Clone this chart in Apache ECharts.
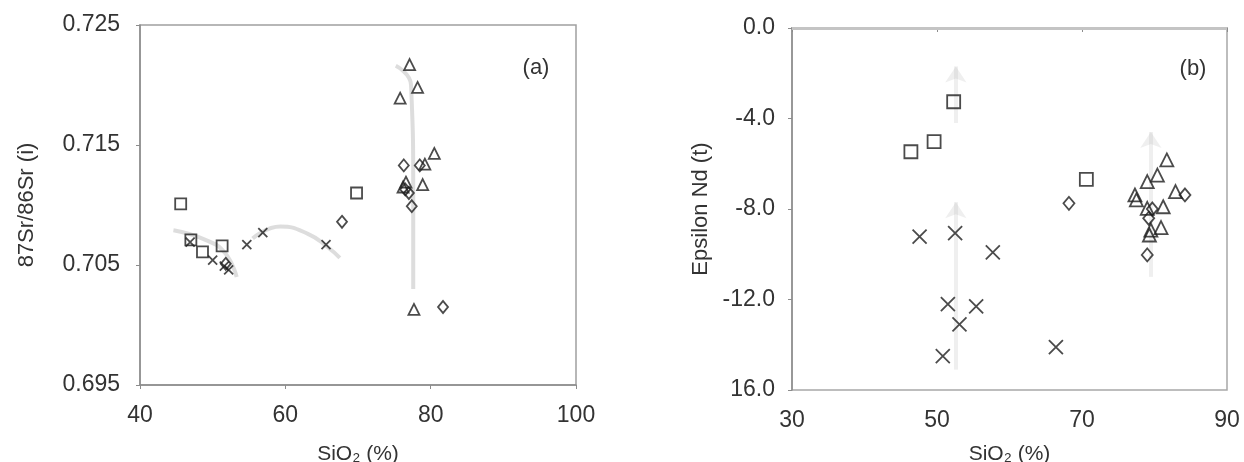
<!DOCTYPE html>
<html>
<head>
<meta charset="utf-8">
<script src="https://cdn.jsdelivr.net/npm/echarts@6/dist/echarts.min.js"></script>
<style>
html,body{margin:0;padding:0;background:#fff;}
#chart{width:1244px;height:462px;}
</style>
</head>
<body>
<div id="chart"></div>
<script>
// ---------- Panel (a): 87Sr/86Sr (i) vs SiO2 ----------
const xTicksA = [40, 60, 80, 100];
const xTickLabelsA = ['40', '60', '80', '100'];
const yTicksA = [0.695, 0.705, 0.715, 0.725];
const yTickLabelsA = ['0.695', '0.705', '0.715', '0.725'];

const aSquares = [[45.6, 0.7101], [47.0, 0.7071], [48.6, 0.7061], [51.3, 0.7066], [69.8, 0.7110]];
const aCrosses = [[46.9, 0.7069], [50.0, 0.7054], [51.6, 0.7049], [52.2, 0.7046], [54.7, 0.7067], [56.9, 0.7077], [65.6, 0.7067]];
const aDiamonds = [[51.8, 0.7051], [67.8, 0.7086], [76.3, 0.7133], [77.0, 0.7110], [77.4, 0.7099], [78.5, 0.7133], [76.5, 0.7113], [81.7, 0.7015]];
const aTriangles = [[77.1, 0.7217], [78.2, 0.7198], [75.8, 0.7189], [80.5, 0.7143], [79.2, 0.7134], [78.9, 0.7117], [76.2, 0.7115], [76.6, 0.7119], [77.7, 0.7013]];

// faint grey trend traces in panel (a)
const aTrend1 = [[44.6, 0.7079], [49.0, 0.7071], [51.7, 0.7060], [53.3, 0.7040]];
const aTrend2 = [[55.5, 0.7072], [59.3, 0.7082], [63.1, 0.7076], [65.8, 0.7065], [67.5, 0.7056]];
const aTrend3 = [[75.2, 0.7216], [77.3, 0.7200], [77.6, 0.7110], [77.6, 0.7030]];

// ---------- Panel (b): Epsilon Nd (t) vs SiO2 ----------
const xTicksB = [30, 50, 70, 90];
const xTickLabelsB = ['30', '50', '70', '90'];
const yTicksB = [-16, -12, -8, -4, 0];
const yTickLabelsB = ['16.0', '-12.0', '-8.0', '-4.0', '0.0'];

const bSquares = [[52.3, -3.26], [49.6, -5.02], [46.4, -5.47], [70.6, -6.69]];
const bCrosses = [[47.6, -9.22], [52.5, -9.07], [57.7, -9.92], [51.5, -12.2], [55.4, -12.3], [53.1, -13.1], [50.8, -14.5], [66.4, -14.1]];
const bDiamonds = [[68.2, -7.75], [79.0, -10.03], [84.2, -7.38], [79.2, -8.41], [79.7, -8.0]];
const bTriangles = [[81.7, -5.83], [80.4, -6.50], [79.0, -6.79], [77.3, -7.38], [77.5, -7.6], [82.9, -7.23], [81.2, -7.9], [79.0, -7.97], [80.9, -8.82], [79.5, -8.93], [79.3, -9.15]];

// faint grey arrows in panel (b)
const bArrow1 = [[52.6, -15.1], [52.6, -7.7]];
const bArrow2 = [[52.6, -4.2], [52.6, -1.7]];
const bArrow3 = [[79.5, -11.0], [79.5, -4.6]];

const FONT = "'Liberation Sans', Arial, sans-serif";
const TXT = '#333';
const AX = '#8c8c8c';
const MK = '#1e1e1e';
const TICKFS = 23;
const NAMEFS = 22;

function axisX(idx, min, max, ticks, labels, gap) {
  return {
    type: 'value', gridIndex: idx, min: min, max: max,
    name: 'SiO₂ (%)', nameLocation: 'middle', nameGap: gap,
    nameTextStyle: {fontFamily: FONT, fontSize: 21, color: TXT},
    axisLine: {show: true, lineStyle: {color: AX, width: 1.5}},
    axisTick: {show: true, length: 4, inside: false, customValues: ticks, lineStyle: {color: AX}},
    axisLabel: {customValues: ticks, margin: 19, fontFamily: FONT, fontSize: TICKFS, color: TXT,
      formatter: v => labels[ticks.findIndex(t => Math.abs(t - v) < 1e-6)]},
    splitLine: {show: false}
  };
}
function axisY(idx, min, max, ticks, labels, name, gap, margin) {
  return {
    type: 'value', gridIndex: idx, min: min, max: max,
    name: name, nameLocation: 'middle', nameGap: gap, nameRotate: 90,
    nameTextStyle: {fontFamily: FONT, fontSize: NAMEFS, color: TXT},
    axisLine: {show: true, lineStyle: {color: AX, width: 1.5}},
    axisTick: {show: true, length: 4, inside: false, customValues: ticks, lineStyle: {color: AX}},
    axisLabel: {customValues: ticks, margin: margin, fontFamily: FONT, fontSize: TICKFS, color: TXT,
      formatter: v => labels[ticks.findIndex(t => Math.abs(t - v) < 1e-6)]},
    splitLine: {show: false}
  };
}

const CROSS = 'path://M0,0L10,10M10,0L0,10';
function pts(name, data, idx, symbol, size) {
  return {
    type: 'scatter', name: name, xAxisIndex: idx, yAxisIndex: idx, data: data,
    symbol: symbol, symbolSize: size, z: 5,
    itemStyle: {color: symbol === CROSS ? 'none' : 'rgba(255,255,255,0)', borderColor: MK, borderWidth: 1.8}
  };
}
function trace(data, idx) {
  return {
    type: 'line', xAxisIndex: idx, yAxisIndex: idx, data: data, smooth: true, z: 1,
    symbol: 'none', silent: true,
    lineStyle: {color: 'rgba(170,170,170,0.4)', width: 4}
  };
}
function arrow(data, idx) {
  return {
    type: 'lines', coordinateSystem: 'cartesian2d', xAxisIndex: idx, yAxisIndex: idx, z: 1, silent: true,
    data: [{coords: data}],
    symbol: ['none', 'arrow'], symbolSize: 16,
    lineStyle: {color: 'rgba(175,175,175,0.4)', width: 4}
  };
}

const chart = echarts.init(document.getElementById('chart'), null, {renderer: 'canvas'});
chart.setOption({
  backgroundColor: '#fff',
  animation: false,
  title: [
    {text: '(a)', left: 531, top: 63, textAlign: 'center', textVerticalAlign: 'middle',
      textStyle: {fontFamily: FONT, fontSize: NAMEFS, fontWeight: 'normal', color: TXT}},
    {text: '(b)', left: 1188, top: 64, textAlign: 'center', textVerticalAlign: 'middle',
      textStyle: {fontFamily: FONT, fontSize: NAMEFS, fontWeight: 'normal', color: TXT}}
  ],
  grid: [
    {left: 140, top: 25, right: 668, bottom: 77, containLabel: false, outerBoundsMode: 'none',
      show: true, borderColor: '#a0a0a0', borderWidth: 1.5, backgroundColor: 'transparent'},
    {left: 792, top: 28, right: 17, bottom: 72, containLabel: false, outerBoundsMode: 'none',
      show: true, borderColor: '#a8a8a8', borderWidth: 1.5, backgroundColor: 'transparent'}
  ],
  xAxis: [
    axisX(0, 40, 100, xTicksA, xTickLabelsA, 59),
    axisX(1, 30, 90, xTicksB, xTickLabelsB, 54)
  ],
  yAxis: [
    axisY(0, 0.695, 0.725, yTicksA, yTickLabelsA, '87Sr/86Sr (i)', 102, 20),
    axisY(1, -16, 0, yTicksB, yTickLabelsB, 'Epsilon Nd (t)', 80, 17)
  ],
  series: [
    trace(aTrend1, 0), trace(aTrend2, 0), trace(aTrend3, 0),
    arrow(bArrow1, 1), arrow(bArrow2, 1), arrow(bArrow3, 1),
    {type: 'line', xAxisIndex: 1, yAxisIndex: 1, data: [], silent: true,
      markLine: {silent: true, symbol: 'none', label: {show: false},
        lineStyle: {color: '#c4c4c4', width: 3, type: 'solid'}, data: [{yAxis: 0}]}},
    pts('squares', aSquares, 0, 'rect', 11),
    pts('crosses', aCrosses, 0, CROSS, 9),
    pts('diamonds', aDiamonds, 0, 'diamond', [10, 12]),
    pts('triangles', aTriangles, 0, 'triangle', 11),
    pts('squares', bSquares, 1, 'rect', 13),
    pts('crosses', bCrosses, 1, CROSS, 14),
    pts('diamonds', bDiamonds, 1, 'diamond', [11, 13]),
    pts('triangles', bTriangles, 1, 'triangle', 13)
  ]
});
</script>
</body>
</html>
